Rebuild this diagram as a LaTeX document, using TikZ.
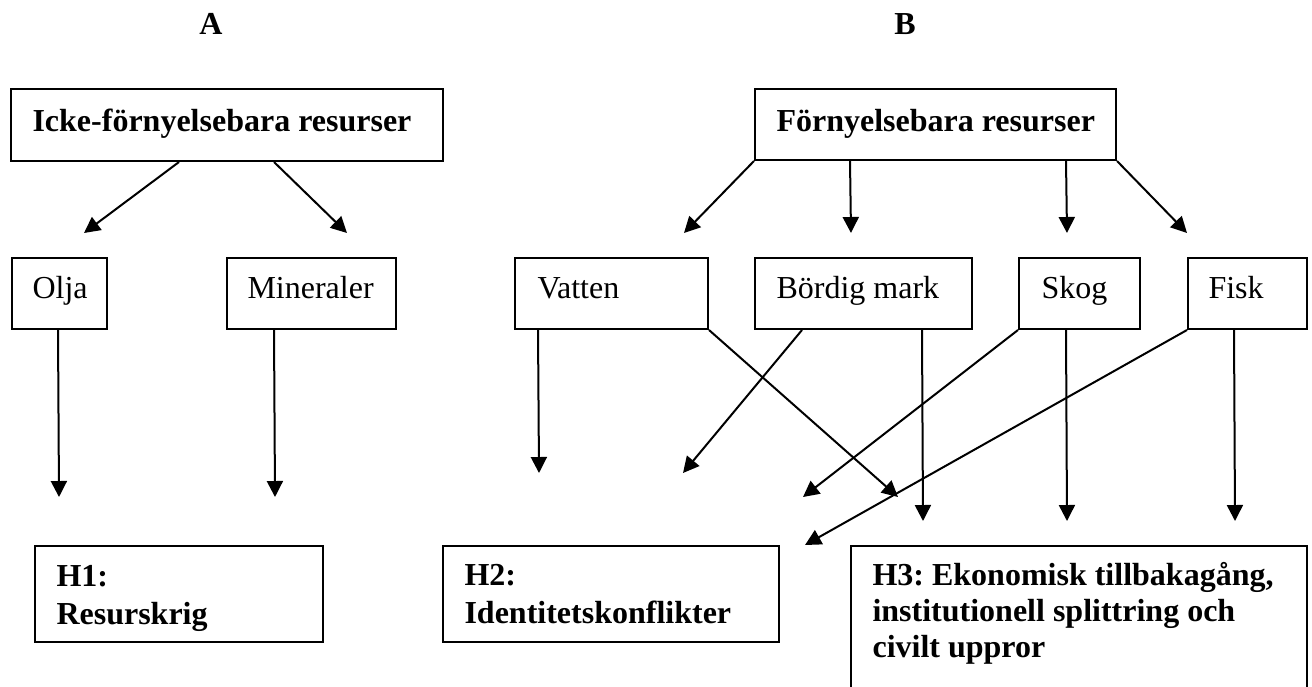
\documentclass[tikz,border=0pt]{standalone}
\usepackage{fontspec}
\setmainfont{Liberation Serif}
\frenchspacing
\usetikzlibrary{arrows.meta,calc,fit}
\begin{document}
\begin{tikzpicture}[x=0.375pt,y=-0.375pt,
  box/.style={draw,line width=0.75pt,inner sep=0pt,rectangle},
  txt/.style={inner sep=0pt,anchor=base west,align=left,font=\fontsize{12}{14.25}\selectfont},
  btxt/.style={txt,font=\bfseries\fontsize{12}{14.25}\selectfont},
  arr/.style={line width=0.75pt,-{Triangle[length=6pt,width=6pt]}}]
\path[use as bounding box] (0,0) rectangle (1312,686);
\clip (0,0) rectangle (1312,686);

% column labels
\node[btxt,anchor=base] (labA) at (211,34) {A};
\node[btxt,anchor=base] (labB) at (905,34) {B};

% top boxes
\node[box,fit={(11,89) (443,161)}] (icke) {};
\node[btxt] (icket) at (32,131) {Icke-förnyelsebara resurser};
\node[box,fit={(755,89) (1116,160)}] (forny) {};
\node[btxt] (fornyt) at (776,131) {Förnyelsebara resurser};

% resource boxes
\node[box,fit={(12,258) (107,329)}] (olja) {};
\node[txt] (oljat) at (32,298) {Olja};
\node[box,fit={(227,258) (396,329)}] (miner) {};
\node[txt] (minert) at (247,298) {Mineraler};
\node[box,fit={(515,258) (708,329)}] (vatten) {};
\node[txt] (vattent) at (537,298) {Vatten};
\node[box,fit={(755,258) (972,329)}] (bordig) {};
\node[txt] (bordigt) at (776,298) {Bördig mark};
\node[box,fit={(1019,258) (1140,329)}] (skog) {};
\node[txt] (skogt) at (1041,298) {Skog};
\node[box,fit={(1188,258) (1307,329)}] (fisk) {};
\node[txt] (fiskt) at (1208,298) {Fisk};

% hypothesis boxes (text anchored at the baseline of its last line)
\node[box,fit={(35,546) (323,642)}] (h1) {};
\node[btxt] (h1t) at (56,624) {H1:\\Resurskrig};
\node[box,fit={(443,546) (779,642)}] (h2) {};
\node[btxt] (h2t) at (464,623) {H2:\\Identitetskonflikter};
\node[box,fit={(851,546) (1307,720)}] (h3) {};
\node[btxt,font=\bfseries\fontsize{12}{13.5}\selectfont] (h3t) at (872,657) {H3: Ekonomisk tillbakagång,\\institutionell splittring och\\civilt uppror};

% arrow tips
\coordinate (tOlja) at (84,233);
\coordinate (tMiner) at (347,233);
\coordinate (tH1a) at (59,497);
\coordinate (tH1b) at (275,497);
\coordinate (tVatten) at (684,233);
\coordinate (tBordig) at (851,233);
\coordinate (tSkog) at (1067,233);
\coordinate (tFisk) at (1187,233);
\coordinate (tV1) at (539,473);
\coordinate (tV2) at (898,497);
\coordinate (tB1) at (683,473);
\coordinate (tB2) at (923,521);
\coordinate (tS1) at (803,497);
\coordinate (tS2) at (1067,521);
\coordinate (tF1) at (805,545);
\coordinate (tF2) at (1235,521);

% A side
\draw[arr] ($(icke.south west)+(169,0)$) -- (tOlja);
\draw[arr] ($(icke.south west)+(264,0)$) -- (tMiner);
\draw[arr] ($(olja.south west)+(47,0)$) -- (tH1a);
\draw[arr] ($(miner.south west)+(48,0)$) -- (tH1b);

% B side
\draw[arr] (forny.south west) -- (tVatten);
\draw[arr] ($(forny.south west)+(96,0)$) -- (tBordig);
\draw[arr] ($(forny.south west)+(312,0)$) -- (tSkog);
\draw[arr] (forny.south east) -- (tFisk);
\draw[arr] ($(vatten.south west)+(24,0)$) -- (tV1);
\draw[arr] (vatten.south east) -- (tV2);
\draw[arr] ($(bordig.south west)+(48,0)$) -- (tB1);
\draw[arr] ($(bordig.south west)+(168,0)$) -- (tB2);
\draw[arr] (skog.south west) -- (tS1);
\draw[arr] ($(skog.south west)+(48,0)$) -- (tS2);
\draw[arr] (fisk.south west) -- (tF1);
\draw[arr] ($(fisk.south west)+(47,0)$) -- (tF2);
\end{tikzpicture}
\end{document}
